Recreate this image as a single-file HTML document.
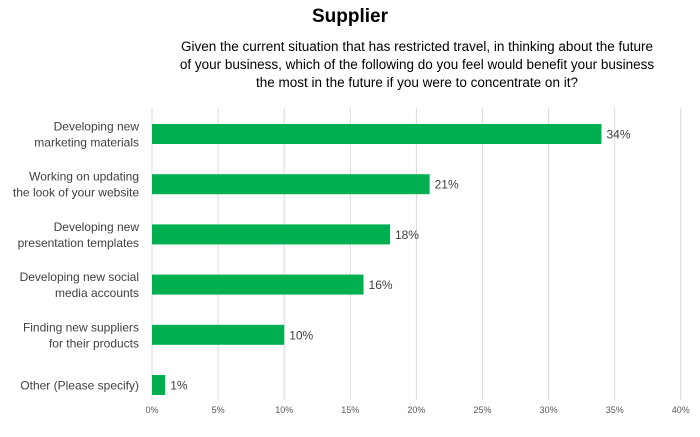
<!DOCTYPE html>
<html><head><meta charset="utf-8"><style>
body{margin:0;background:#fff;font-family:"Liberation Sans",sans-serif;}
</style></head><body>
<svg width="700" height="432" xmlns="http://www.w3.org/2000/svg">
<text x="350" y="22" text-anchor="middle" font-size="19" font-weight="bold" fill="#000">Supplier</text>
<g font-size="13.5" fill="#000" text-anchor="middle">
<text x="417" y="51">Given the current situation that has restricted travel, in thinking about the future</text>
<text x="417" y="69">of your business, which of the following do you feel would benefit your business</text>
<text x="417" y="87">the most in the future if you were to concentrate on it?</text>
</g>
<g id="grid"></g>
<g id="bars"></g>
<g id="xt"></g>
</svg>
<script>
const categories=[["Developing new","marketing materials"],["Working on updating","the look of your website"],["Developing new","presentation templates"],["Developing new social","media accounts"],["Finding new suppliers","for their products"],["Other (Please specify)"]];
const values=[34,21,18,16,10,1];
const ticks=[0,5,10,15,20,25,30,35,40];
const NS="http://www.w3.org/2000/svg";
const x=v=>152+v*13.22;
const y=i=>124+i*50.2;
function mk(t,a,p){const e=document.createElementNS(NS,t);for(const k in a)e.setAttribute(k,a[k]);p.appendChild(e);return e;}
const g=document.getElementById('grid'),b=document.getElementById('bars'),xt=document.getElementById('xt');
ticks.forEach(t=>{
 const l=mk('line',{x1:x(t),x2:x(t),y1:108,y2:400,stroke:'#d9d9d9','stroke-width':1},g);
 
 
 const tx=mk('text',{x:x(t),y:413,'text-anchor':'middle','font-size':9,fill:'#595959'},xt);
 tx.textContent=t+'%';
 
 
});
values.forEach((v,i)=>{
 const r=mk('rect',{x:x(0),y:y(i),width:x(v)-x(0),height:20,fill:'#00b050'},b);
 
 
 const lb=mk('text',{x:x(v)+5,y:y(i)+14.5,'font-size':12,fill:'#404040'},b);
 lb.textContent=v+'%';
 
 
 const lines=categories[i];
 const c=mk('text',{'text-anchor':'end','font-size':12,fill:'#404040'},b);
 
 
 lines.forEach((s,j)=>{
  const ts=mk('tspan',{x:139,y:y(i)+14.5+(lines.length===2?(j===0?-8:8):0)},c);
  ts.textContent=s;
 });
});
</script>
</body></html>
